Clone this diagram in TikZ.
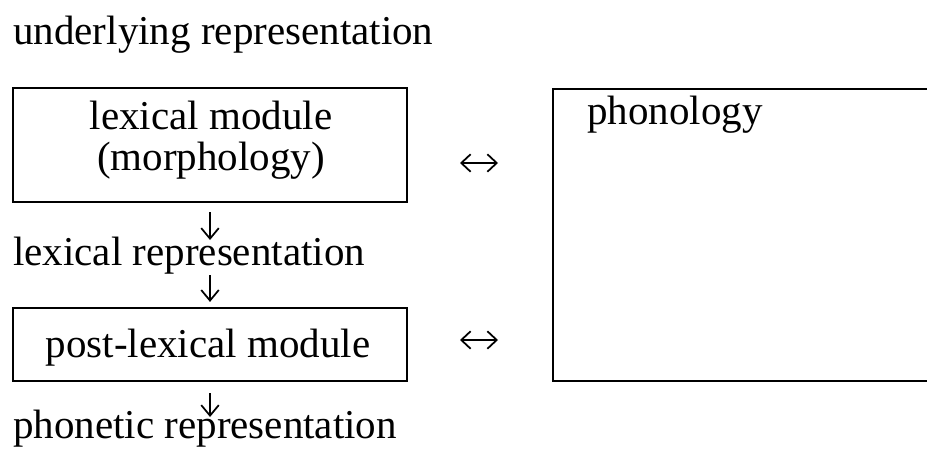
\documentclass[tikz,border=0pt]{standalone}
\usepackage{fontspec}
\setmainfont{Liberation Serif}
\usetikzlibrary{positioning,arrows.meta}
\tikzset{
  module/.style={draw, line width=1.8pt, inner sep=0pt, align=center},
  label/.style={inner sep=0pt, anchor=base west},
  inlabel/.style={inner sep=0pt, anchor=base},
  flow/.style={line width=1.5pt, -{Straight Barb[length=9pt,width=15pt]}},
  link/.style={line width=1.5pt, {Straight Barb[length=8pt,width=15pt]}-{Straight Barb[length=8pt,width=15pt]}}
}
\begin{document}
\begin{tikzpicture}[x=0.03cm, y=-0.03cm, font=\fontsize{35}{30}\selectfont]
            \useasboundingbox (0,0) rectangle (927,452);
            \node[label] (under) at (13,45) {underlying representation};
            \node[module, minimum width=11.82cm, minimum height=3.42cm] (lexbox) at (210,145) {};
            \node[inlabel] (lexmod) at (211,130) {lexical module};
            \node[inlabel] (morph) at (211,170) {(morphology)};
            \node[label] (lexrep) at (13,265) {lexical representation};
            \node[module, minimum width=11.82cm, minimum height=2.19cm] (postbox) at (210,344.5) {};
            \node[inlabel] (postmod) at (208,357) {post-lexical module};
            \node[label] (phonrep) at (13,438) {phonetic representation};
            \node[module, anchor=north west, minimum width=12.5cm, minimum height=8.76cm] (phonbox) at (552,88) {};
            \node[label] (phon) at (587,125) {phonology};
            \draw[flow] ([yshift=-0.27cm]lexbox.south) -- ([yshift=0.75cm]lexbox.south |- lexrep.base);
            \draw[flow] ([yshift=-0.3cm]lexbox.south |- lexrep.base) -- ([yshift=0.15cm]postbox.north);
            \draw[flow] ([yshift=-0.33cm]postbox.south) -- ([yshift=0.63cm]postbox.south |- phonrep.base);
            \coordinate (lexl) at (460,163);
            \coordinate (lexr) at (498,163);
            \coordinate (postl) at (460,340);
            \coordinate (postr) at (498,340);
            \draw[link] (lexl) -- (lexr);
            \draw[link] (postl) -- (postr);
        \end{tikzpicture}
\end{document}
